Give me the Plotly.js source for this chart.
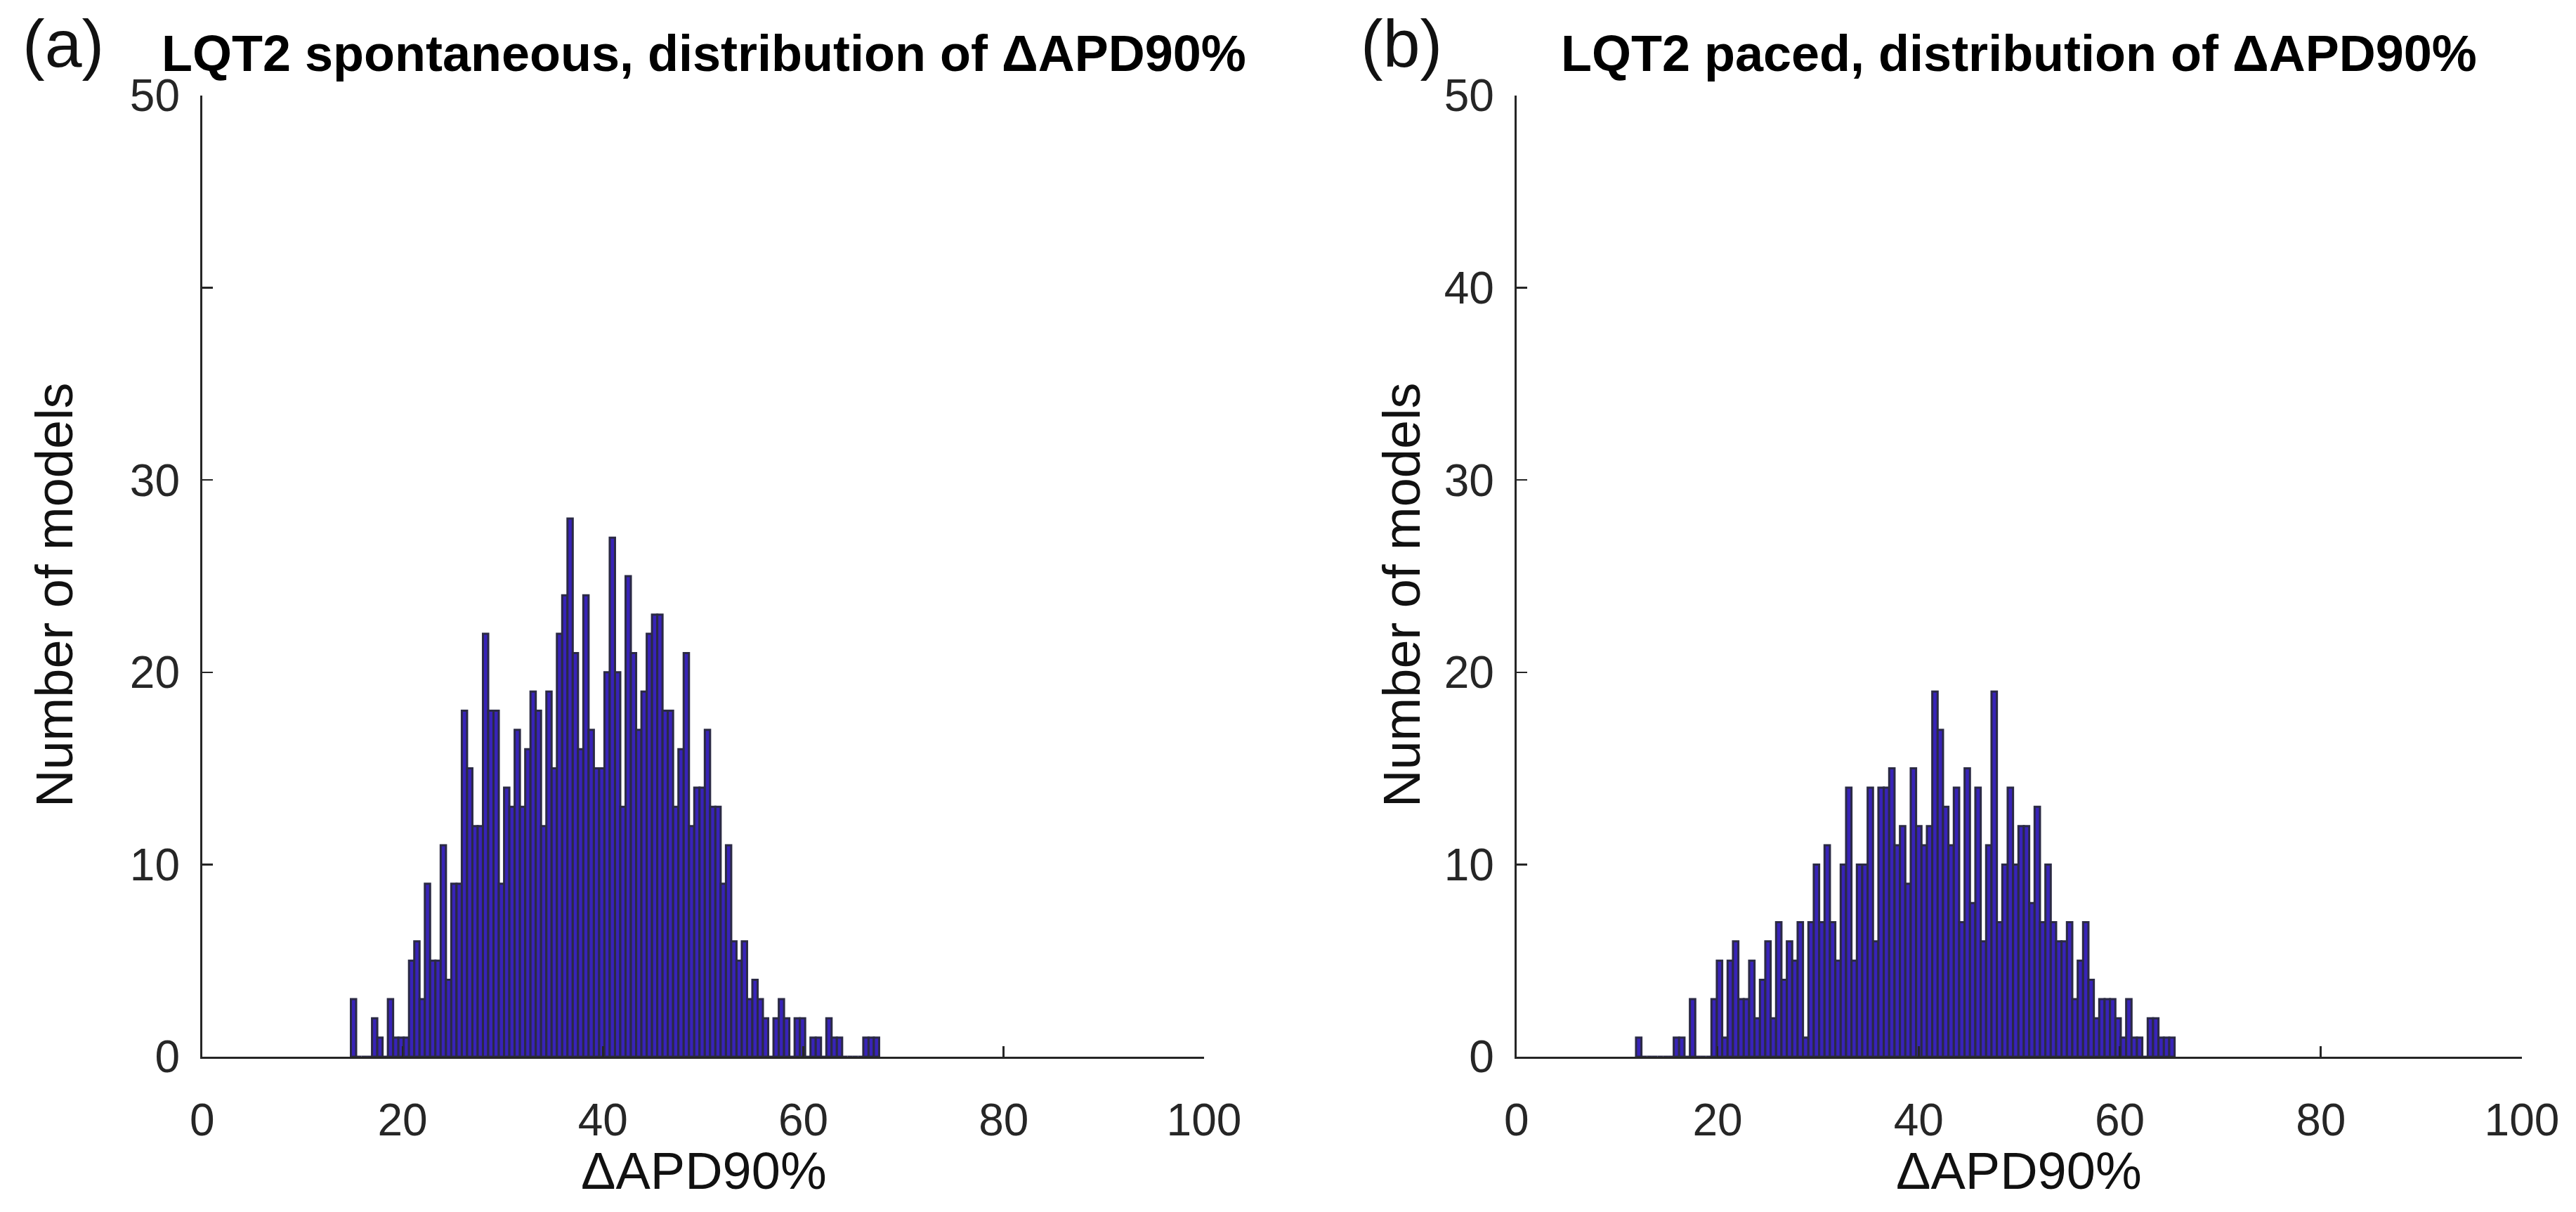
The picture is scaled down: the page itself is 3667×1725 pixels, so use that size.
<!DOCTYPE html>
<html>
<head>
<meta charset="utf-8">
<script src="https://cdn.plot.ly/plotly-3.0.1.min.js"></script>
<style>html,body{margin:0;padding:0;background:#fff;}#chart{width:3667px;height:1725px;}</style>
</head>
<body>
<div id="chart"></div>
<script>
// Histogram (a): LQT2 spontaneous, 100 equal bins
const binRangeA = [14.84, 67.57];
const countsA = [3,0,0,0,2,1,0,3,1,1, 1,5,6,3,9,5,5,11,4,9,
  9,18,15,12,12,22,18,18,9,14, 13,17,13,16,19,18,12,19,15,22,
  24,28,21,16,24,17,15,15,20,27, 20,13,25,21,17,19,22,23,23,18,
  18,13,16,21,12,14,14,17,13,13, 9,11,6,5,6,3,4,3,2,0,
  2,3,2,0,2,2,0,1,1,0, 2,1,1,0,0,0,0,1,1,1];
// Histogram (b): LQT2 paced, 100 equal bins
const binRangeB = [11.89, 65.46];
const countsB = [1,0,0,0,0,0,0,1,1,0, 3,0,0,0,3,5,1,5,6,3,
  3,5,2,4,6,2,7,4,6,5, 7,1,7,10,7,11,7,5,10,14,
  5,10,10,14,6,14,14,15,11,12, 9,15,12,11,12,19,17,13,11,14,
  7,15,8,14,6,11,19,7,10,14, 10,12,12,8,13,7,10,7,6,6,
  7,3,5,7,4,2,3,3,3,2, 1,3,1,1,0,2,2,1,1,1];

const xTicks = [0,20,40,60,80,100];
const yTicks = [0,10,20,30,40,50];
const yTickTextA = ['0','10','20','30','','50'];
const yTickTextB = ['0','10','20','30','40','50'];
const titleA = 'LQT2 spontaneous, distribution of ΔAPD90%';
const titleB = 'LQT2 paced, distribution of ΔAPD90%';
const xLabel = 'ΔAPD90%';
const yLabel = 'Number of models';

function centers(range, n){
  const w = (range[1]-range[0])/n;
  const c = [];
  for(let i=0;i<n;i++) c.push(range[0] + (i+0.5)*w);
  return {c:c, w:w};
}
const ca = centers(binRangeA, countsA.length);
const cb = centers(binRangeB, countsB.length);

const barStyle = {color:'#3823b8', line:{color:'#2b2a45', width:3}};
const traces = [
  {type:'bar', x:ca.c, y:countsA, width:ca.w, marker:barStyle, xaxis:'x', yaxis:'y', hoverinfo:'x+y'},
  {type:'bar', x:cb.c, y:countsB, width:cb.w, marker:barStyle, xaxis:'x2', yaxis:'y2', hoverinfo:'x+y'}
];

const helv = '"Liberation Sans",Arial,Helvetica,sans-serif';
const tickFont = {family:helv, size:64, color:'#262626'};
function xax(dom, anchor){
  return {domain:dom, anchor:anchor, range:[0,100], tickvals:xTicks, ticks:'inside', ticklen:15, tickwidth:2.5,
    tickcolor:'#262626', showline:true, linecolor:'#262626', linewidth:3, showgrid:false, zeroline:false,
    tickfont:tickFont, ticklabelstandoff:32, fixedrange:true};
}
function yax(anchor, txt){
  return {domain:[0.1281,0.9212], anchor:anchor, range:[0,50], tickvals:yTicks, ticktext:txt, ticks:'inside', ticklen:15, tickwidth:2.5,
    tickcolor:'#262626', showline:true, linecolor:'#262626', linewidth:3, showgrid:false, zeroline:false,
    tickfont:tickFont, ticklabelstandoff:16, fixedrange:true};
}
const titleFont = {family:helv, size:72, color:'#000', weight:'bold'};
const labelFont = {family:helv, size:74, color:'#111'};
const letterFont = {family:helv, size:95, color:'#111'};

const layout = {
  width:3667, height:1725, margin:{l:0,r:0,t:0,b:0}, paper_bgcolor:'#fff', plot_bgcolor:'#fff',
  showlegend:false, bargap:0,
  xaxis: xax([0.0785,0.4674],'y'),
  yaxis: yax('x', yTickTextA),
  xaxis2: xax([0.5887,0.9790],'y2'),
  yaxis2: yax('x2', yTickTextB),
  annotations:[
    {text:'<b>'+titleA+'</b>', xref:'paper', yref:'paper', x:1002/3667, y:1-76/1725, showarrow:false, font:titleFont, xanchor:'center', yanchor:'middle'},
    {text:'<b>'+titleB+'</b>', xref:'paper', yref:'paper', x:2874/3667, y:1-76/1725, showarrow:false, font:titleFont, xanchor:'center', yanchor:'middle'},
    {text:'(a)', xref:'paper', yref:'paper', x:90/3667, y:1-62/1725, showarrow:false, font:letterFont, xanchor:'center', yanchor:'middle'},
    {text:'(b)', xref:'paper', yref:'paper', x:1995/3667, y:1-62/1725, showarrow:false, font:letterFont, xanchor:'center', yanchor:'middle'},
    {text:yLabel, xref:'paper', yref:'paper', x:77/3667, y:1-847/1725, showarrow:false, font:labelFont, textangle:-90, xanchor:'center', yanchor:'middle'},
    {text:yLabel, xref:'paper', yref:'paper', x:1995/3667, y:1-847/1725, showarrow:false, font:labelFont, textangle:-90, xanchor:'center', yanchor:'middle'},
    {text:xLabel, xref:'paper', yref:'paper', x:1002/3667, y:1-1666/1725, showarrow:false, font:labelFont, xanchor:'center', yanchor:'middle'},
    {text:xLabel, xref:'paper', yref:'paper', x:2874/3667, y:1-1666/1725, showarrow:false, font:labelFont, xanchor:'center', yanchor:'middle'}
  ]
};
Plotly.newPlot('chart', traces, layout, {displayModeBar:false, staticPlot:true});
</script>
</body>
</html>
